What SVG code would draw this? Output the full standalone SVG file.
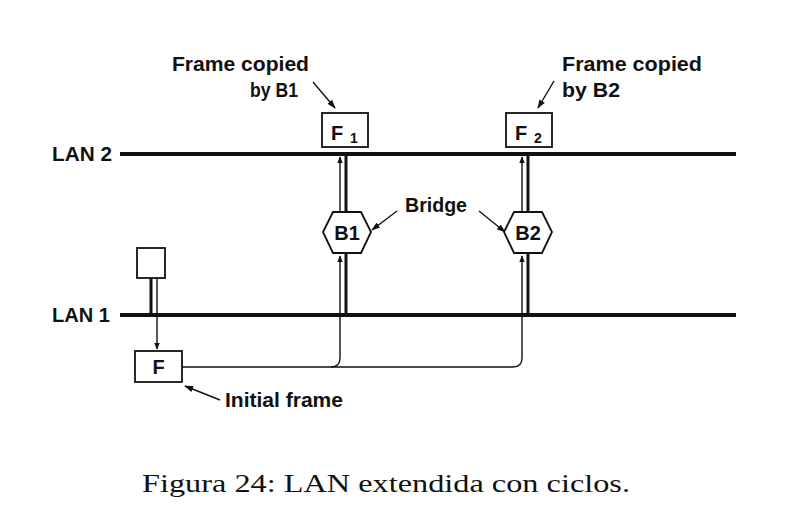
<svg xmlns="http://www.w3.org/2000/svg" width="789" height="511" viewBox="0 0 789 511">
<style>
.lbl{font-family:"Liberation Sans",Arial,sans-serif;font-weight:bold;font-size:20px;fill:#111}
.cap{font-family:"Liberation Serif","Times New Roman",serif;font-size:26px;fill:#111}
.lan{stroke:#111;stroke-width:4;fill:none}
.thick{stroke:#111;stroke-width:3;fill:none}
.thin{stroke:#111;stroke-width:1.4;fill:none}
.box{fill:#fff;stroke:#111;stroke-width:1.8}
</style>
<defs>
<marker id="ah" viewBox="0 0 10 10" refX="9" refY="5" markerWidth="7" markerHeight="7" orient="auto" markerUnits="userSpaceOnUse">
<path d="M0,1 L10,5 L0,9 z" fill="#111"/>
</marker>
<marker id="ah2" viewBox="0 0 10 10" refX="9" refY="5" markerWidth="9" markerHeight="9" orient="auto" markerUnits="userSpaceOnUse">
<path d="M0,1.5 L10,5 L0,8.5 z" fill="#111"/>
</marker>
</defs>
<rect width="789" height="511" fill="#fff"/>

<g id="lan2">
<line class="lan" x1="120" y1="154" x2="736" y2="154"/>
<text class="lbl" x="52" y="161" textLength="60" lengthAdjust="spacingAndGlyphs">LAN 2</text>
</g>
<g id="lan1">
<line class="lan" x1="120" y1="315" x2="736" y2="315"/>
<text class="lbl" x="52" y="322" textLength="58" lengthAdjust="spacingAndGlyphs">LAN 1</text>
</g>

<g id="connectors">
<!-- host -->
<line class="thick" x1="151" y1="278" x2="151" y2="315"/>
<line class="thin" x1="157" y1="278" x2="157" y2="349" marker-end="url(#ah)"/>
<!-- bridge B1 -->
<line class="thick" x1="346" y1="155" x2="346" y2="212"/>
<line class="thin" x1="340" y1="211" x2="340" y2="157" marker-end="url(#ah)"/>
<line class="thick" x1="346" y1="252" x2="346" y2="315"/>
<path class="thin" d="M182,367 H513 Q522,367 522,358 V256" marker-end="url(#ah)"/>
<path class="thin" d="M331,367 Q340,367 340,358 V256" marker-end="url(#ah)"/>
<!-- bridge B2 -->
<line class="thick" x1="528" y1="155" x2="528" y2="212"/>
<line class="thin" x1="522" y1="211" x2="522" y2="157" marker-end="url(#ah)"/>
<line class="thick" x1="528" y1="252" x2="528" y2="315"/>
<!-- label pointers -->
<line class="thin" x1="313" y1="82" x2="335" y2="108" marker-end="url(#ah2)"/>
<line class="thin" x1="554" y1="81" x2="538" y2="108" marker-end="url(#ah2)"/>
<line class="thin" x1="397" y1="211" x2="372" y2="230" marker-end="url(#ah2)"/>
<line class="thin" x1="479" y1="211" x2="505" y2="232" marker-end="url(#ah2)"/>
<line class="thin" x1="220" y1="400" x2="185" y2="386" marker-end="url(#ah2)"/>
</g>

<g id="host">
<rect class="box" x="137" y="248" width="28" height="30"/>
</g>

<g id="frameF">
<rect class="box" x="135" y="351" width="47" height="31"/>
<text class="lbl" x="158.5" y="374" text-anchor="middle">F</text>
<text class="lbl" x="225" y="407" textLength="118" lengthAdjust="spacingAndGlyphs">Initial frame</text>
</g>

<g id="frameF1">
<rect class="box" x="322" y="113" width="46" height="34"/>
<text class="lbl" x="331" y="140" font-size="19">F</text>
<text class="lbl" x="350" y="143" style="font-size:14px">1</text>
<text class="lbl" x="172" y="71" textLength="137" lengthAdjust="spacingAndGlyphs">Frame copied</text>
<text class="lbl" x="250" y="97" textLength="48" lengthAdjust="spacingAndGlyphs">by B1</text>
</g>

<g id="frameF2">
<rect class="box" x="506" y="113" width="46" height="34"/>
<text class="lbl" x="515" y="140">F</text>
<text class="lbl" x="534" y="143" style="font-size:14px">2</text>
<text class="lbl" x="562" y="71" textLength="140" lengthAdjust="spacingAndGlyphs">Frame copied</text>
<text class="lbl" x="562" y="97" textLength="58" lengthAdjust="spacingAndGlyphs">by B2</text>
</g>

<g id="B1">
<polygon class="box" points="333,212 361,212 371,232 361,253 333,253 323,232"/>
<text class="lbl" x="347" y="240" text-anchor="middle">B1</text>
</g>

<g id="B2">
<polygon class="box" points="514,212 542,212 552,232 542,253 514,253 504,232"/>
<text class="lbl" x="528" y="240" text-anchor="middle">B2</text>
</g>

<g id="bridgeLabel">
<text class="lbl" x="405" y="212" textLength="62" lengthAdjust="spacingAndGlyphs">Bridge</text>
</g>

<text class="cap" x="142" y="492" textLength="488" lengthAdjust="spacingAndGlyphs">Figura 24: LAN extendida con ciclos.</text>
</svg>
